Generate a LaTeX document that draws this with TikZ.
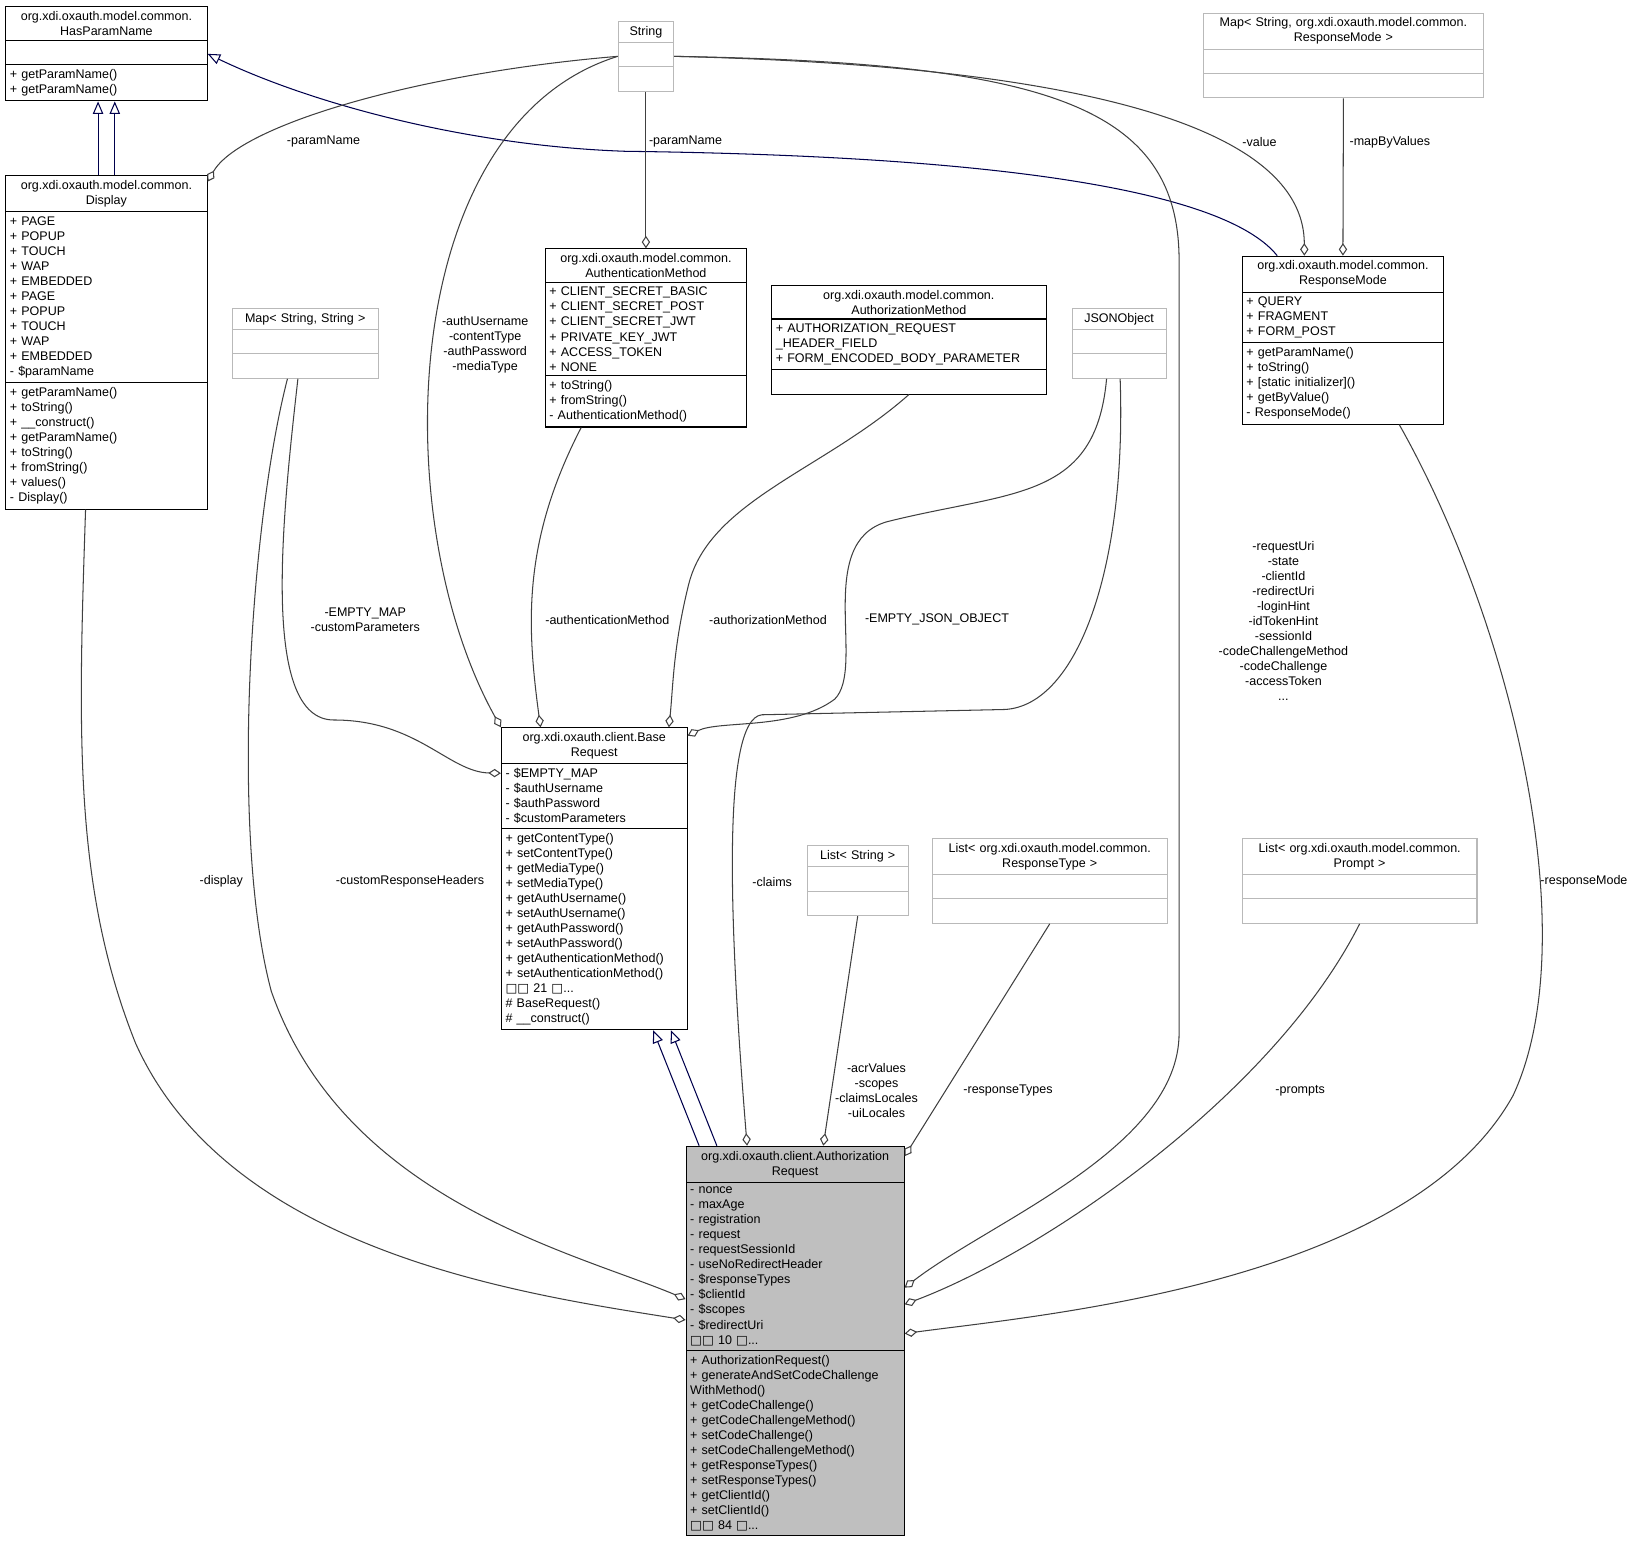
\documentclass[tikz,border=0pt]{standalone}
\usepackage{fontspec}
\setmainfont{Liberation Sans}
\newfontfamily\symfont{DejaVu Sans}
\usetikzlibrary{shapes.multipart,arrows.meta,calc}
\newcommand{\clsfont}{\fontsize{6}{7.2}\selectfont}
\newcommand{\bx}{{\symfont □}}
\newcommand{\ttl}[1]{\parbox{\linewidth}{\centering #1}}
\tikzset{
  cls/.style={draw, rectangle split, rectangle split parts=3, anchor=north west,
    inner sep=2pt, font=\clsfont, align=left, line width=0.5pt},
  ext/.style={cls, draw=gray!55},
  agg/.style={draw=black!75, line width=0.5pt, -{Diamond[open,length=6pt,width=4pt]}},
  inh/.style={draw=blue!30!black, line width=0.5pt, -{Triangle[open,length=6pt,width=5pt]}},
  lbl/.style={font=\clsfont, align=center, inner sep=0pt},
}
\begin{document}
\begin{tikzpicture}[x=0.5pt,y=-0.5pt]
\useasboundingbox (0,0) rectangle (1565,1485);
% CLASSES
\node[cls, text width=92.5pt] (hpn) at (5,6) {\ttl{org.xdi.oxauth.model.common.\\HasParamName}
  \nodepart{two}\strut
  \nodepart{three}+ getParamName()\\+ getParamName()};
\node[cls, text width=92.5pt] (disp) at (5,168) {\ttl{org.xdi.oxauth.model.common.\\Display}
  \nodepart{two}+ PAGE\\+ POPUP\\+ TOUCH\\+ WAP\\+ EMBEDDED\\+ PAGE\\+ POPUP\\+ TOUCH\\+ WAP\\+ EMBEDDED\\- \$paramName
  \nodepart{three}+ getParamName()\\+ toString()\\+ \_\_construct()\\+ getParamName()\\+ toString()\\+ fromString()\\+ values()\\- Display()};
\node[ext, text width=22.5pt] (str) at (592,20) {\ttl{String}
  \nodepart{two}\strut \nodepart{three}\strut};
\node[ext, text width=130pt] (maprm) at (1153,12) {\ttl{Map< String, org.xdi.oxauth.model.common.\\ResponseMode >}
  \nodepart{two}\strut \nodepart{three}\strut};
\node[cls, text width=92.5pt] (rmode) at (1190,245) {\ttl{org.xdi.oxauth.model.common.\\ResponseMode}
  \nodepart{two}+ QUERY\\+ FRAGMENT\\+ FORM\_POST
  \nodepart{three}+ getParamName()\\+ toString()\\+ [static initializer]()\\+ getByValue()\\- ResponseMode()};
\node[cls, text width=92.5pt] (authn) at (522,238) {\ttl{org.xdi.oxauth.model.common.\\AuthenticationMethod}
  \nodepart{two}+ CLIENT\_SECRET\_BASIC\\+ CLIENT\_SECRET\_POST\\+ CLIENT\_SECRET\_JWT\\+ PRIVATE\_KEY\_JWT\\+ ACCESS\_TOKEN\\+ NONE
  \nodepart{three}+ toString()\\+ fromString()\\- AuthenticationMethod()};
\node[cls, text width=127.5pt] (authz) at (739,273) {\ttl{org.xdi.oxauth.model.common.\\AuthorizationMethod}
  \nodepart{two}+ AUTHORIZATION\_REQUEST\\\_HEADER\_FIELD\\+ FORM\_ENCODED\_BODY\_PARAMETER
  \nodepart{three}\strut};
\node[ext, text width=66pt] (mapss) at (222,295) {\ttl{Map< String, String >}
  \nodepart{two}\strut \nodepart{three}\strut};
\node[ext, text width=41pt] (json) at (1027,295) {\ttl{JSONObject}
  \nodepart{two}\strut \nodepart{three}\strut};
\node[cls, text width=85pt] (base) at (480,697) {\ttl{org.xdi.oxauth.client.Base\\Request}
  \nodepart{two}- \$EMPTY\_MAP\\- \$authUsername\\- \$authPassword\\- \$customParameters
  \nodepart{three}+ getContentType()\\+ setContentType()\\+ getMediaType()\\+ setMediaType()\\+ getAuthUsername()\\+ setAuthUsername()\\+ getAuthPassword()\\+ setAuthPassword()\\+ getAuthenticationMethod()\\+ setAuthenticationMethod()\\\bx\bx{} 21 \bx...\\\# BaseRequest()\\\# \_\_construct()};
\node[ext, text width=44.5pt] (lstr) at (773,810) {\ttl{List< String >}
  \nodepart{two}\strut \nodepart{three}\strut};
\node[ext, text width=108.5pt] (lrt) at (893,803) {\ttl{List< org.xdi.oxauth.model.common.\\ResponseType >}
  \nodepart{two}\strut \nodepart{three}\strut};
\node[ext, text width=108.5pt] (lpr) at (1190,803) {\ttl{List< org.xdi.oxauth.model.common.\\Prompt >}
  \nodepart{two}\strut \nodepart{three}\strut};
\node[cls, fill=gray!50, text width=100.5pt] (areq) at (657,1098) {\ttl{org.xdi.oxauth.client.Authorization\\Request}
  \nodepart{two}- nonce\\- maxAge\\- registration\\- request\\- requestSessionId\\- useNoRedirectHeader\\- \$responseTypes\\- \$clientId\\- \$scopes\\- \$redirectUri\\\bx\bx{} 10 \bx...
  \nodepart{three}+ AuthorizationRequest()\\+ generateAndSetCodeChallenge\\WithMethod()\\+ getCodeChallenge()\\+ getCodeChallengeMethod()\\+ setCodeChallenge()\\+ setCodeChallengeMethod()\\+ getResponseTypes()\\+ setResponseTypes()\\+ getClientId()\\+ setClientId()\\\bx\bx{} 84 \bx...};
% INHERITANCE
\draw[inh] ([xshift=-4]disp.north) -- ([xshift=-4]hpn.south);
\draw[inh] ([xshift=4]disp.north) -- ([xshift=4]hpn.south);
\draw[inh] ([xshift=17]rmode.north west) .. controls (1180,190) and (1000,150) .. (600,145)
  .. controls (450,140) and (300,100) .. (hpn.east);
\draw[inh] ([xshift=6.5]areq.north west) -- ([xshift=-16.5]base.south east);
\draw[inh] ([xshift=15]areq.north west) -- ([xshift=-8]base.south east);
% AGGREGATIONS
\draw[agg] (str.west) .. controls (400,70) and (230,120) .. ([yshift=-3]disp.north east);
\node[lbl] (l1) at (310,136) {-paramName};
\draw[agg] (str.south) -- (authn.north);
\node[lbl] (l2) at (657,136) {-paramName};
\draw[agg] (str.east) .. controls (900,60) and (1250,90) .. ([xshift=30]rmode.north west);
\node[lbl] (l3) at (1207,136) {-value};
\draw[agg] (str.west) .. controls (380,120) and (370,500) .. (base.north west);
\node[lbl] (l4) at (465,330) {-authUsername\\-contentType\\-authPassword\\-mediaType};
\draw[agg] (str.east) .. controls (1000,60) and (1130,100) .. (1130,250)
  -- (1130,990) .. controls (1130,1100) and (950,1170) .. ([yshift=-68]areq.north east);
\node[lbl] (l5) at (1230,595) {-requestUri\\-state\\-clientId\\-redirectUri\\-loginHint\\-idTokenHint\\-sessionId\\-codeChallengeMethod\\-codeChallenge\\-accessToken\\...};
\draw[agg] (maprm.south) -- (rmode.north);
\node[lbl] (l6) at (1332,136) {-mapByValues};
\draw[agg] ([xshift=-3.5]mapss.south) .. controls (270,500) and (250,690) .. (320,690)
  .. controls (400,690) and (430,740) .. ([yshift=-22]base.north west);
\node[lbl] (l7) at (350,594) {-EMPTY\_MAP\\-customParameters};
\draw[agg] ([xshift=-8.5]mapss.south) .. controls (240,500) and (220,800) .. (260,950)
  .. controls (330,1150) and (550,1200) .. ([yshift=-73.5]areq.north west);
\node[lbl] (l8) at (393,845) {-customResponseHeaders};
\draw[agg] ([xshift=17.5]authn.south west) .. controls (500,520) and (505,600) .. ([xshift=19]base.north west);
\node[lbl] (l9) at (582,594) {-authenticationMethod};
\draw[agg] (authz.south) .. controls (790,450) and (680,480) .. (660,560) .. controls (645,620) and (645,660) .. ([xshift=-9]base.north east);
\node[lbl] (l10) at (736,594) {-authorizationMethod};
\draw[agg] ([xshift=-6]json.south) .. controls (1050,480) and (970,470) .. (850,500)
  .. controls (780,520) and (830,640) .. (800,670) .. controls (760,700) and (690,690) .. ([yshift=-4]base.north east);
\node[lbl] (l11) at (898,594) {-EMPTY\_JSON\_OBJECT};
\draw[agg] ([xshift=0.5]json.south) .. controls (1080,550) and (1030,680) .. (960,680)
  -- (730,685) .. controls (690,690) and (700,900) .. ([xshift=29.5]areq.north west);
\node[lbl] (l12) at (740,845) {-claims};
\draw[agg] ([xshift=-10]disp.south) .. controls (75,700) and (70,850) .. (130,1000)
  .. controls (220,1200) and (500,1240) .. ([yshift=-83.5]areq.north west);
\node[lbl] (l13) at (212,845) {-display};
\draw[agg] (lstr.south) -- ([xshift=66]areq.north west);
\node[lbl] (l14) at (840,1045) {-acrValues\\-scopes\\-claimsLocales\\-uiLocales};
\draw[agg] (lrt.south) -- ([yshift=-5]areq.north east);
\node[lbl] (l15) at (966,1045) {-responseTypes};
\draw[agg] (lpr.south) .. controls (1220,1050) and (1000,1200) .. ([yshift=-76]areq.north east);
\node[lbl] (l16) at (1246,1045) {-prompts};
\draw[agg] ([xshift=-21.5]rmode.south east) .. controls (1450,600) and (1520,900) .. (1450,1050)
  .. controls (1350,1230) and (1000,1260) .. ([yshift=-90]areq.north east);
\node[lbl] (l17) at (1518,845) {-responseMode};
\end{tikzpicture}
\end{document}
